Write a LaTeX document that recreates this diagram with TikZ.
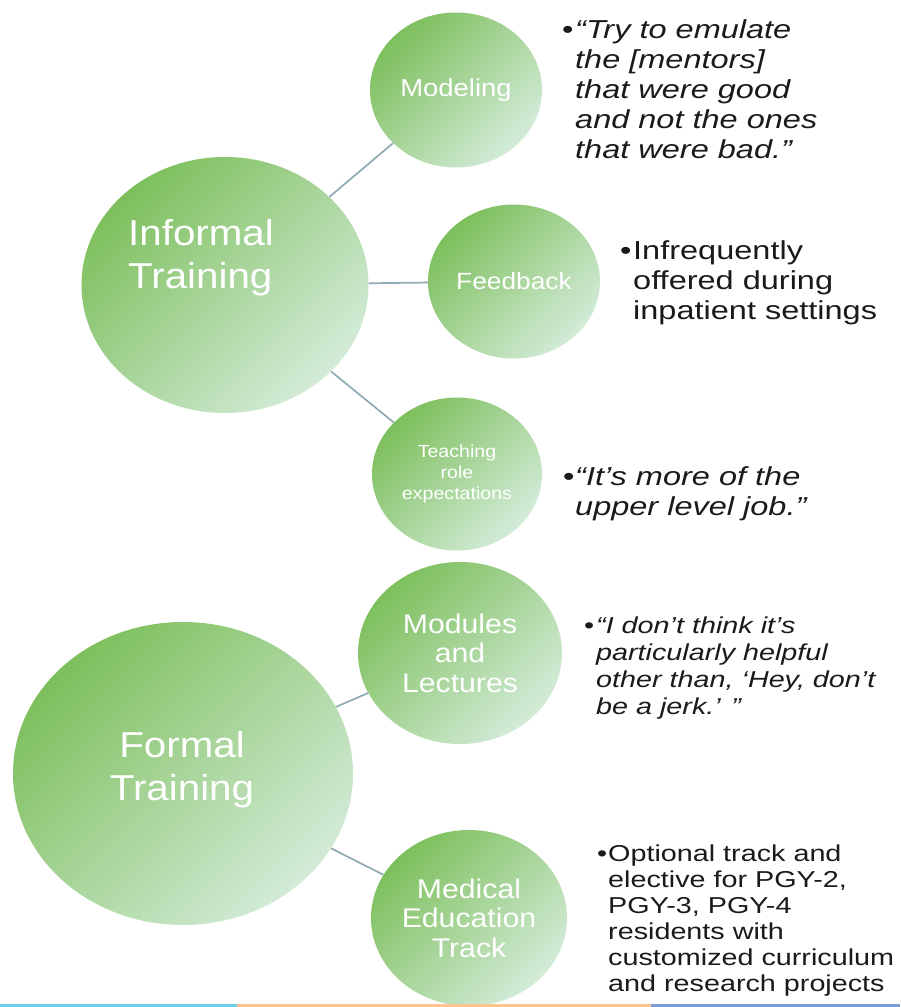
\documentclass[tikz,border=0pt]{standalone}
\usepackage{fontspec}
\usetikzlibrary{shapes.geometric}
\newfontfamily\whtfont[FakeStretch=1.12]{Liberation Sans}
\newfontfamily\blkfont[FakeStretch=1.25]{Liberation Sans}
\definecolor{gdark}{HTML}{7DBF5C}
\definecolor{glight}{HTML}{D3EBD8}
\definecolor{connc}{HTML}{8FAAB4}
\definecolor{txtc}{HTML}{1A1A1A}
\definecolor{stripA}{HTML}{6CCFE6}
\definecolor{stripB}{HTML}{FAC590}
\definecolor{stripC}{HTML}{7C9ED6}
\tikzset{
  bubble/.style={ellipse, inner sep=0pt, top color=gdark, bottom color=glight,
    shading angle=45, text=white, align=center, font=\whtfont},
  wtext/.style={inner sep=0pt, text=white, font=\whtfont},
  link/.style={draw=connc, line width=1.7pt},
  blk/.style={inner sep=0pt, text=txtc, align=left, anchor=base west},
  bul/.style={inner sep=0pt, text=txtc, anchor=base west},
}
\begin{document}
\begin{tikzpicture}[x=1pt, y=-1pt]
\useasboundingbox (0,0) rectangle (900,1007);
\fill[white] (0,0) rectangle (900,1007);

% circles
\node[bubble, minimum width=287pt, minimum height=256pt] (inf) at (225,285) {};
\node[bubble, minimum width=172pt, minimum height=155pt,
  font=\whtfont\fontsize{24.5}{28}\selectfont] (mod) at (456,90) {Modeling};
\node[bubble, minimum width=172pt, minimum height=154pt,
  font=\whtfont\fontsize{23.5}{28}\selectfont] (fb) at (514,281.5) {Feedback};
\node[bubble, minimum width=170pt, minimum height=153pt,
  font=\whtfont\fontsize{17.5}{21}\selectfont] (tr) at (457,474) {Teaching\\role\\expectations};
\node[bubble, minimum width=340pt, minimum height=303pt] (frm) at (183,773.5) {};
\node[bubble, minimum width=204pt, minimum height=182pt,
  font=\whtfont\fontsize{27}{29.5}\selectfont] (ml) at (460,653) {Modules\\and\\Lectures};
\node[bubble, minimum width=196pt, minimum height=176pt,
  font=\whtfont\fontsize{27}{29.5}\selectfont] (met) at (469,918) {Medical\\Education\\Track};

% big circle texts (base anchor = last line)
\node[wtext, align=left, anchor=base west, font=\whtfont\fontsize{36}{43}\selectfont]
  (inft) at (128,288) {Informal\\Training};
\node[wtext, align=center, anchor=base, font=\whtfont\fontsize{36}{43}\selectfont]
  (frmt) at (182,800) {Formal\\Training};

% connectors
\draw[link] (inf) -- (mod);
\draw[link] (inf) -- (fb);
\draw[link] (inf) -- (tr);
\draw[link] (frm) -- (ml);
\draw[link] (frm) -- (met);

% right-hand texts (bullets at first baseline, text anchored at last baseline)
\node[bul, font=\blkfont\fontsize{26}{30}\selectfont] (b1) at (562,38) {•};
\node[blk, font=\blkfont\itshape\fontsize{26}{30}\selectfont] (q1) at (575,158)
  {“Try to emulate\\the [mentors]\\that were good\\and not the ones\\that were bad.”};

\node[bul, font=\blkfont\fontsize{26}{30}\selectfont] (b2) at (620,259) {•};
\node[blk, font=\blkfont\fontsize{26}{30}\selectfont] (q2) at (633,319)
  {Infrequently\\offered during\\inpatient settings};

\node[bul, font=\blkfont\fontsize{26}{30}\selectfont] (b3) at (563,485) {•};
\node[blk, font=\blkfont\itshape\fontsize{26}{30}\selectfont] (q3) at (575,515)
  {“It’s more of the\\upper level job.”};

\node[bul, font=\blkfont\fontsize{23}{27}\selectfont] (b4) at (584,633) {•};
\node[blk, font=\blkfont\itshape\fontsize{23}{27}\selectfont] (q4) at (596,714)
  {“I don’t think it’s\\particularly helpful\\other than, ‘Hey, don’t\\be a jerk.’ ”};

\node[bul, font=\blkfont\fontsize{23}{26}\selectfont] (b5) at (597,861) {•};
\node[blk, font=\blkfont\fontsize{23}{26}\selectfont] (q5) at (608,991)
  {Optional track and\\elective for PGY-2,\\PGY-3, PGY-4\\residents with\\customized curriculum\\and research projects};

% bottom strip
\fill[stripA] (0,1003.5) rectangle (237,1007);
\fill[stripB] (237,1003.5) rectangle (651,1007);
\fill[stripC] (651,1003.5) rectangle (900,1007);
\end{tikzpicture}
\end{document}
